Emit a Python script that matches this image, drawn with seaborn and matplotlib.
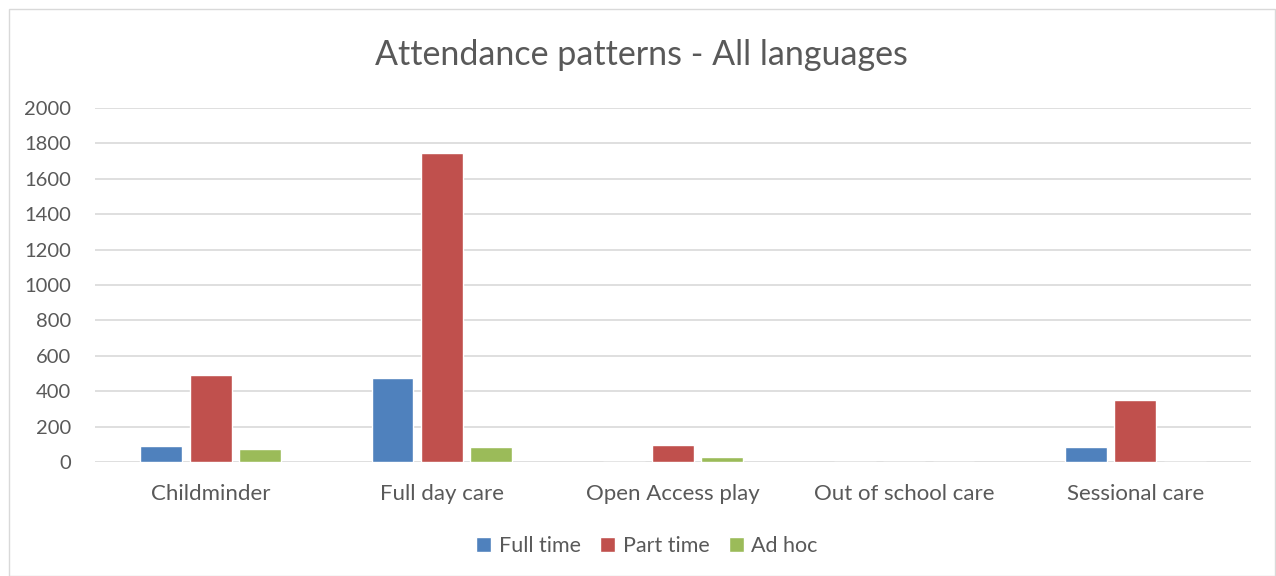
import matplotlib.pyplot as plt
import seaborn as sns
import pandas as pd
from matplotlib.patches import Rectangle

# data
categories = ['Childminder', 'Full day care', 'Open Access play', 'Out of school care', 'Sessional care']
full_time = [90, 476, 0, 0, 83]
part_time = [492, 1748, 96, 0, 349]
ad_hoc = [72, 86, 28, 0, 0]
series_names = ['Full time', 'Part time', 'Ad hoc']
colors = ['#4F81BD', '#C0504D', '#9BBB59']

df = pd.DataFrame({
    'category': categories * 3,
    'series': [s for s in series_names for _ in categories],
    'value': full_time + part_time + ad_hoc,
})

sns.set_theme(style='white')
plt.rcParams['font.family'] = ['Lato', 'DejaVu Sans']

fig = plt.figure(figsize=(12.76, 5.76), dpi=100)
ax = fig.add_axes([95 / 1276, 1 - 462 / 576, (1251 - 95) / 1276, (462 - 108) / 576])

sns.barplot(data=df, x='category', y='value', hue='series', order=categories,
            hue_order=series_names, palette=colors, width=0.64, gap=0.15,
            saturation=1, ax=ax, legend=True)

ax.set_ylim(0, 2000)
ax.set_yticks(range(0, 2001, 200))
ax.set_xlim(-0.5, len(categories) - 0.5)
ax.set_xlabel('')
ax.set_ylabel('')
ax.grid(True, axis='y', color='#D9D9D9', linewidth=1.2)
ax.set_axisbelow(True)
for s in ax.spines.values():
    s.set_visible(False)
ax.tick_params(axis='y', length=0, labelsize=14.5, colors='#595959', pad=17)
ax.tick_params(axis='x', length=0, labelsize=16, colors='#595959', pad=16)

fig.text(0.503, 1 - 55 / 576, 'Attendance patterns - All languages', fontsize=24.5,
         color='#595959', ha='center', va='center')

handles, labels = ax.get_legend_handles_labels()
ax.get_legend().remove()
fig.legend(handles, labels, loc='center', bbox_to_anchor=(0.507, 1 - 546 / 576), ncol=3,
           frameon=False, fontsize=15.5, labelcolor='#595959', handlelength=0.7,
           handleheight=0.7, handletextpad=0.35, columnspacing=0.9)

# chart border
fig.patches.append(Rectangle((9 / 1276, 0), 1 - 9 / 1276 - 1 / 1276, 1 - 9 / 576, transform=fig.transFigure,
                             fill=False, edgecolor='#D9D9D9', linewidth=1))

fig.savefig('out.png', dpi=100)
